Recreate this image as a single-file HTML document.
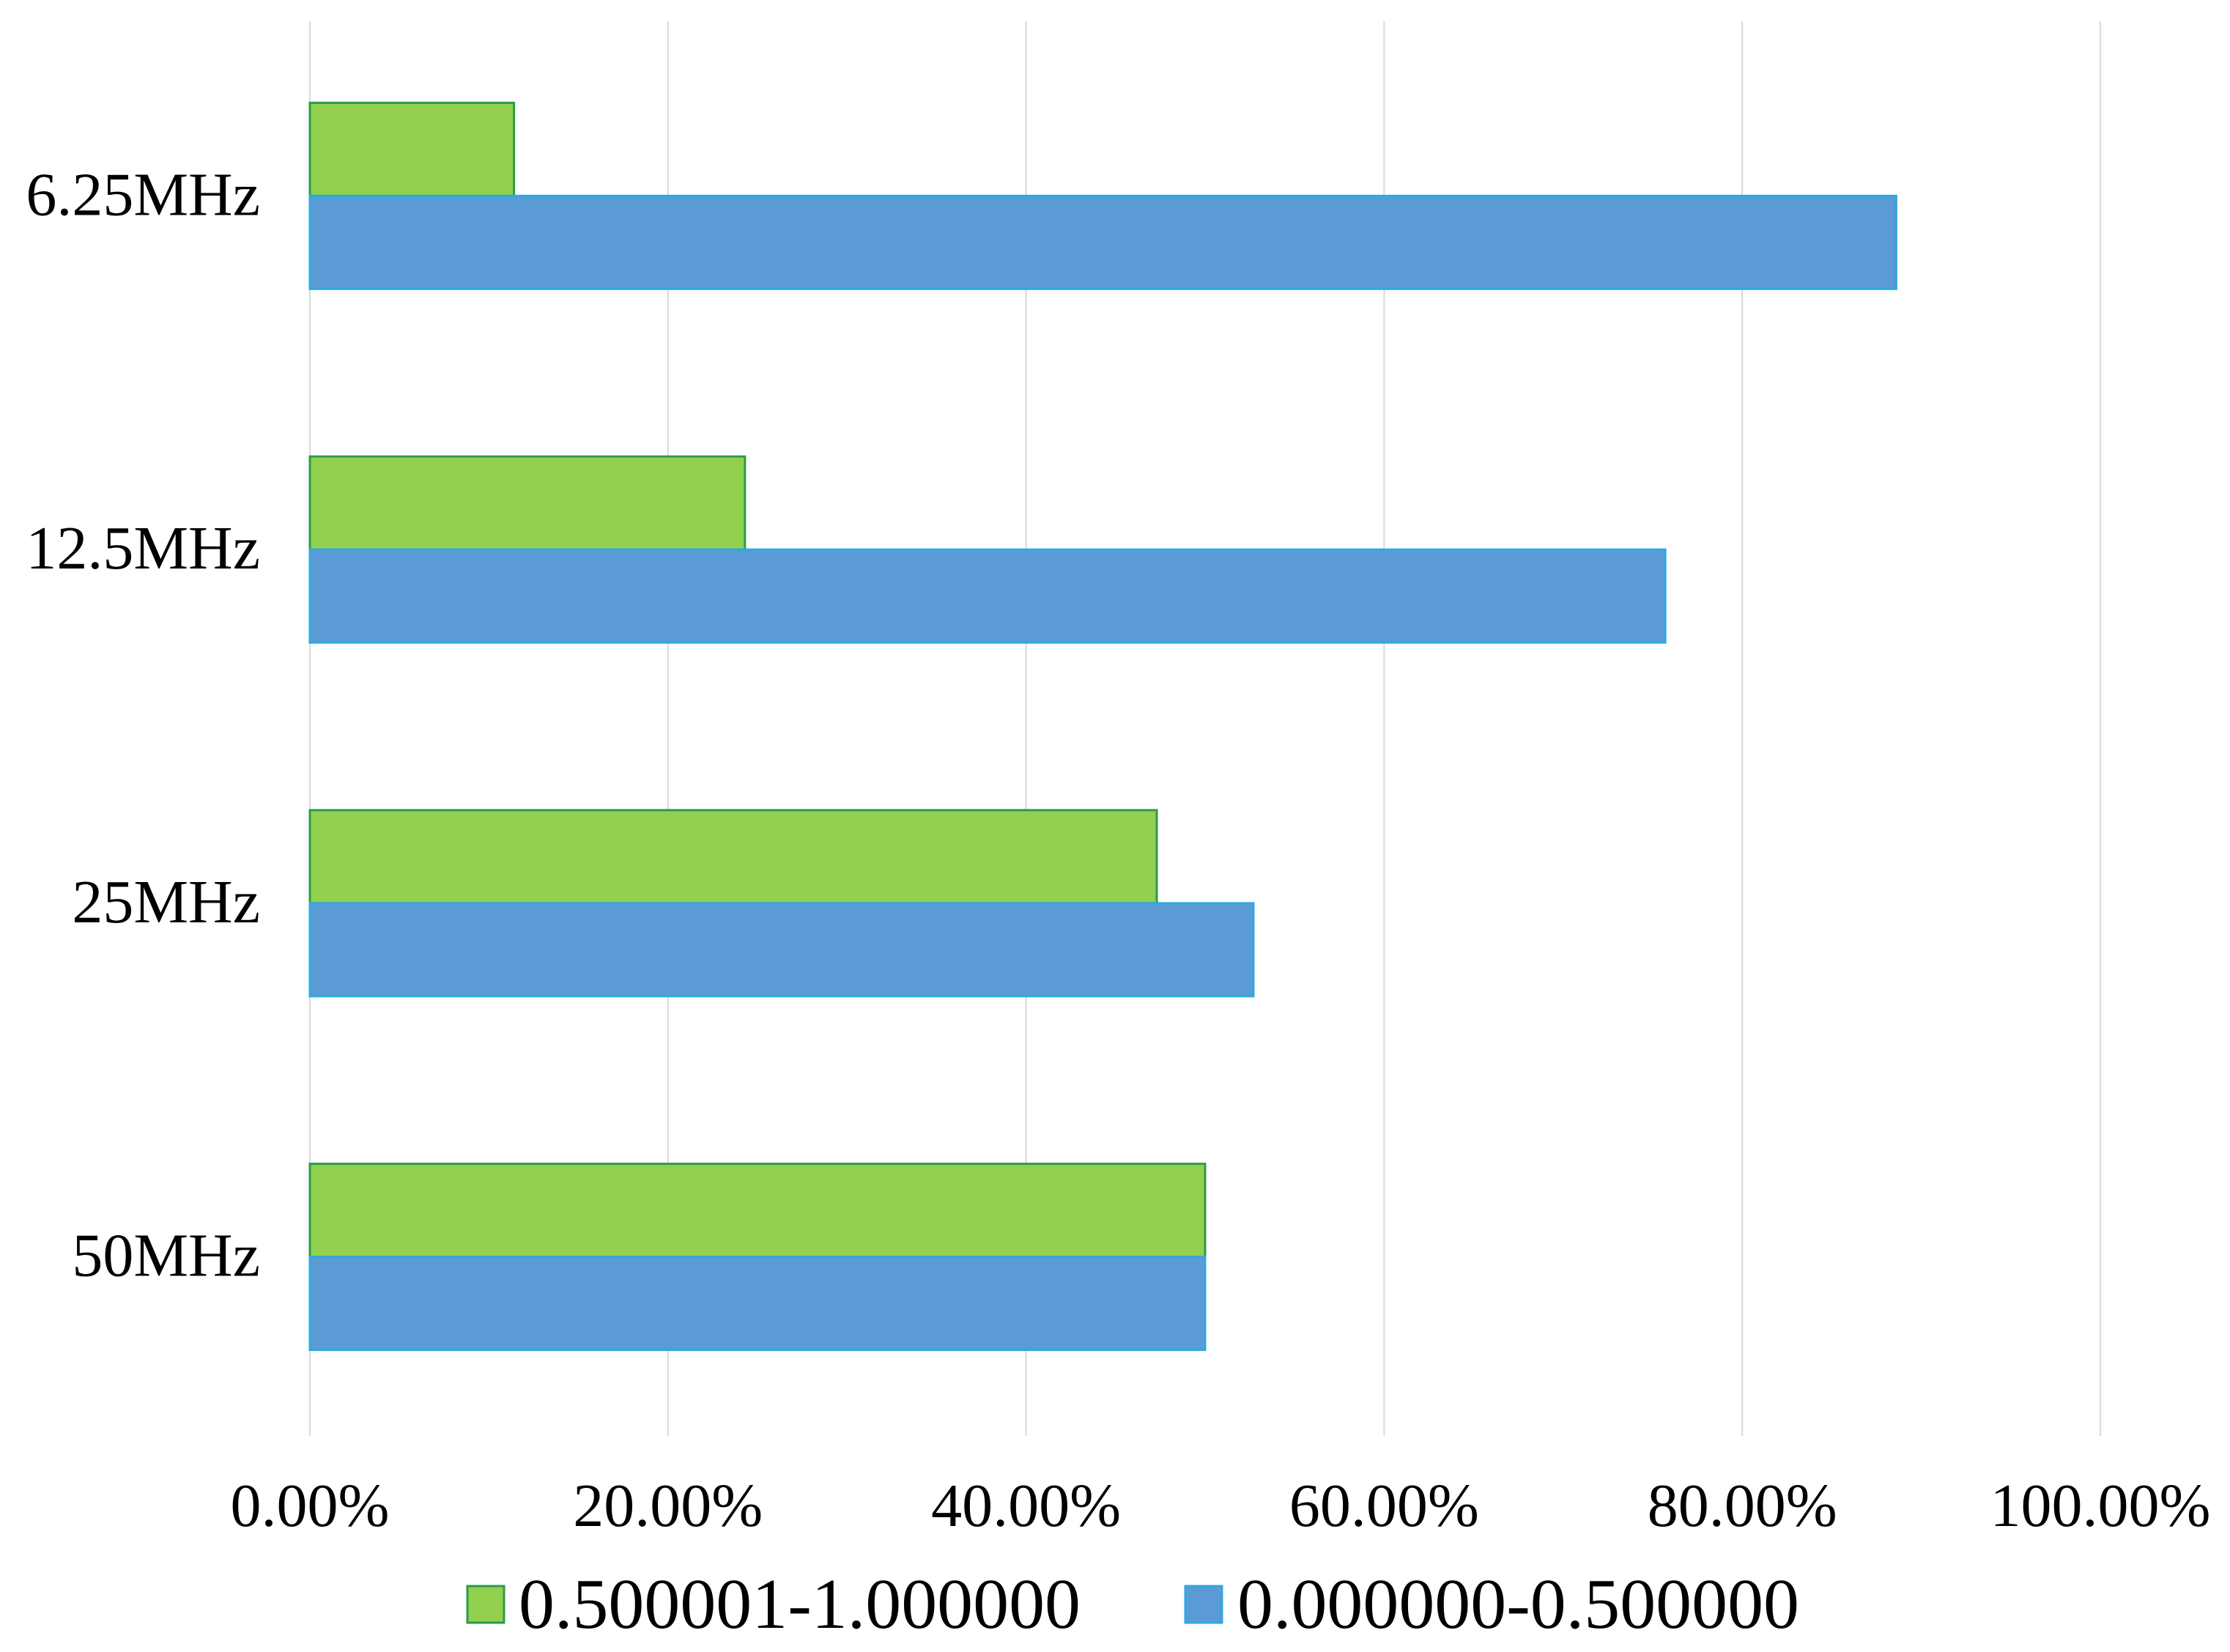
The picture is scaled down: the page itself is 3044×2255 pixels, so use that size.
<!DOCTYPE html>
<html><head><meta charset="utf-8"><style>
html,body{margin:0;padding:0;background:#fff;}
svg{display:block;}
text{font-family:"Liberation Serif",serif;fill:#000;}
</style></head><body>
<svg id="chart" width="3044" height="2255" viewBox="0 0 3044 2255" xmlns="http://www.w3.org/2000/svg">
<g id="grid"></g>
<g id="bars"></g>
<g id="ylabels"></g>
<g id="xlabels"></g>
<g>
  <g>
    <rect x="638" y="2165" width="50" height="50" fill="#92d050" stroke="#2e9a4a" stroke-width="3"/>
    <text x="708" y="2222" font-size="98" textLength="767" lengthAdjust="spacingAndGlyphs">0.500001-1.000000</text>
  </g>
  <g>
    <rect x="1618" y="2165" width="50" height="50" fill="#5b9bd5" stroke="#2fa8e0" stroke-width="3"/>
    <text x="1689" y="2222" font-size="98" textLength="767" lengthAdjust="spacingAndGlyphs">0.000000-0.500000</text>
  </g>
</g>
</svg>
<script>
const categories = ["6.25MHz","12.5MHz","25MHz","50MHz"];
const highValues = [11.4, 24.3, 47.3, 50.0];
const lowValues = [88.6, 75.7, 52.7, 50.0];
const tickValues = [0,20,40,60,80,100];
const tickLabels = ["0.00%","20.00%","40.00%","60.00%","80.00%","100.00%"];

const NS="http://www.w3.org/2000/svg";
const X0=423, X1=2867, Y0=26, Y1=1957;
const band=(Y1-Y0)/categories.length, barH=127;
function xScale(v){return X0+(X1-X0)*v/100;}
function bandCenter(i){return Y0+band*(i+0.5);}
function mk(tag,attrs,parent){const e=document.createElementNS(NS,tag);for(const k in attrs)e.setAttribute(k,attrs[k]);parent.appendChild(e);return e;}
const grid=document.getElementById('grid'), bars=document.getElementById('bars'), yl=document.getElementById('ylabels'), xl=document.getElementById('xlabels');
tickValues.forEach((t,i)=>{
  const l=mk('line',{x1:xScale(t),x2:xScale(t),y1:Y0+3,y2:Y1+3,stroke:'#d9d9d9','stroke-width':2},grid);
  
  
  const tx=mk('text',{x:xScale(t),y:2083,'font-size':84,'text-anchor':'middle'},xl);
  tx.textContent=tickLabels[i];
  
  
});
categories.forEach((c,i)=>{
  const cy=bandCenter(i);
  const g=mk('rect',{x:X0,y:cy-barH,width:xScale(highValues[i])-X0,height:barH,fill:'#92d050',stroke:'#2e9a4a','stroke-width':3},bars);
  
  
  const b=mk('rect',{x:X0,y:cy,width:xScale(lowValues[i])-X0,height:barH,fill:'#5b9bd5',stroke:'#2fa8e0','stroke-width':3},bars);
  
  
  const t=mk('text',{x:355,y:cy+26,'font-size':84,'text-anchor':'end'},yl);
  t.textContent=c;
  
  
});
</script>
</body></html>
